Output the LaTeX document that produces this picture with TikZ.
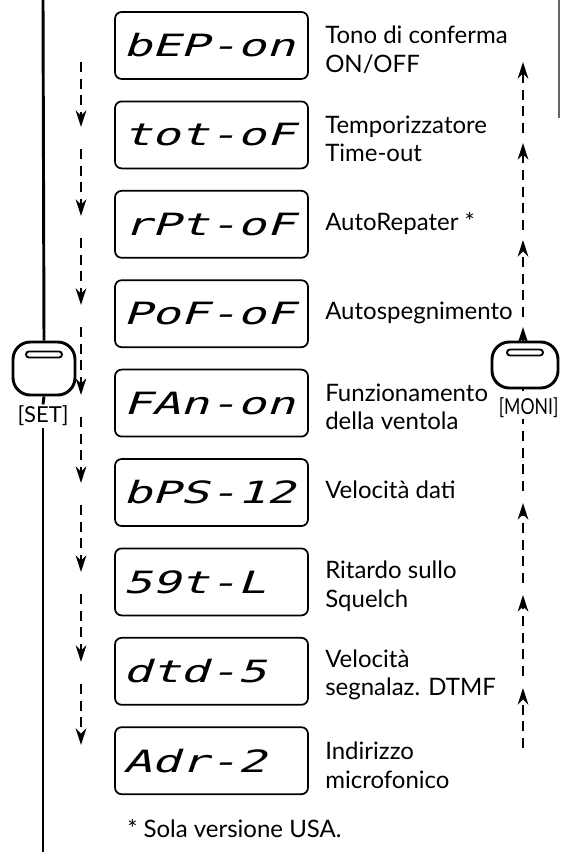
\documentclass[tikz,border=0pt]{standalone}
\usepackage{fontspec}
\setmainfont{Lato}
\newfontfamily\lcdfont[FakeSlant=0.22]{DejaVu Sans Mono}
\usetikzlibrary{arrows.meta}
\newcommand{\lcdtxt}[1]{\scalebox{1.55}[1]{\lcdfont\fontsize{23}{23}\selectfont #1}}
\begin{document}
\begin{tikzpicture}[x=0.75pt,y=-0.75pt,
  lcdbox/.style={draw, line width=1.3pt, rounded corners=5pt, minimum height=50.25pt,
    text width=132.75pt, inner xsep=6pt, inner ysep=0pt, align=left},
  lbl/.style={anchor=west, align=left, inner sep=0pt, font=\fontsize{18}{21.5}\selectfont},
  btnlbl/.style={inner sep=1pt, fill=white, font=\fontsize{16.5}{18}\selectfont},
  btn/.style={draw, line width=2.2pt, fill=white, rounded corners=13pt, inner sep=0pt},
  slot/.style={draw, line width=1.4pt, rounded corners=2.2pt, minimum width=27pt,
    minimum height=4.5pt, inner sep=0pt},
  dsh/.style={line width=1.4pt, dash pattern=on 7.5pt off 5pt},
  arr/.style={dsh, -{Stealth[length=12.5pt,width=8pt,inset=4pt]}},
  solid line/.style={line width=2.2pt}
]
\useasboundingbox (0,0) rectangle (561,852);

% right dashed line segment hidden behind the MONI button
\coordinate (rm0) at (523,491);
\coordinate (ra4) at (523,327);
\draw[arr] (rm0) -- (ra4);

% LCD boxes
\node[lcdbox] (b1) at (211.5,45.5)  {\lcdtxt{bEP-on}};
\node[lcdbox] (b2) at (211.5,134.9) {\lcdtxt{tot-oF}};
\node[lcdbox] (b3) at (211.5,224.3) {\lcdtxt{rPt-oF}};
\node[lcdbox] (b4) at (211.5,313.7) {\lcdtxt{PoF-oF}};
\node[lcdbox] (b5) at (211.5,403.1) {\lcdtxt{FAn-on}};
\node[lcdbox] (b6) at (211.5,492.5) {\lcdtxt{bPS-12}};
\node[lcdbox] (b7) at (211.5,581.9) {\lcdtxt{59t-L}};
\node[lcdbox] (b8) at (211.5,671.3) {\lcdtxt{dtd-5}};
\node[lcdbox] (b9) at (211.5,760.7) {\lcdtxt{Adr-2}};

% labels
\node[lbl] (d1) at (325,50)  {Tono di conferma\\ON/OFF};
\node[lbl] (d2) at (325,139) {Temporizzatore\\Time-out};
\node[lbl] (d3) at (325,224) {AutoRepater *};
\node[lbl] (d4) at (325,313) {Autospegnimento};
\node[lbl] (d5) at (325,407) {Funzionamento\\della ventola};
\node[lbl] (d6) at (325,490) {Velocità dati};
\node[lbl] (d7) at (325,586) {Ritardo sullo\\Squelch};
\node[lbl] (d8) at (325,675) {Velocità\\segnalaz. DTMF};
\node[lbl] (d9) at (325,765) {Indirizzo\\microfonico};
\node[lbl] (fn) at (127,829) {* Sola versione USA.};

% buttons
\node[btn, minimum width=46.5pt, minimum height=39.75pt] (setb) at (44,368.5) {};
\node[slot] (sets) at (44,354.5) {};
\node[btnlbl] (setl) at (43,416) {[SET]};
\node[btn, minimum width=49.5pt, minimum height=34.5pt] (monb) at (525,365) {};
\node[slot] (mons) at (525,352.5) {};
\node[btnlbl, anchor=east] (monl) at (560,408) {\scalebox{0.8}[1]{[MONI]}};

% left solid line
\coordinate (ltop) at (43,0);
\coordinate (lbot) at (43,852);
\draw[solid line] (ltop) -- (setb.north);
\draw[solid line] (setb.south) -- (setl.north);
\draw[solid line] (setl.south) -- (lbot);

% right gray edge line
\coordinate (gt) at (559,0);
\coordinate (gb) at (559,118);
\draw[line width=1.5pt, black!60] (gt) -- (gb);

% left dashed arrows (downwards)
\coordinate (ls) at (81,62);
\foreach \i/\y in {1/127,2/216,3/305,4/395,5/483,6/572,7/662,8/745}{
  \coordinate (la\i) at (81,\y);
  \coordinate (lb\i) at (81,\y+22);
}
\draw[arr] (ls) -- (la1);
\foreach \i/\j in {1/2,2/3,3/4,4/5,5/6,6/7,7/8}{
  \draw[arr] (lb\i) -- (la\j);
}

% right dashed arrows (upwards)
\coordinate (rs) at (523,748);
\foreach \i/\y in {1/62,2/143,3/240,5/503,6/595,7/688}{
  \coordinate (ra\i) at (523,\y);
}
\coordinate (rb4) at (523,317);
\coordinate (rb3) at (523,230);
\coordinate (rb2) at (523,133);
\coordinate (rb7) at (523,676);
\coordinate (rb6) at (523,583);
\draw[arr] (rs) -- (ra7);
\draw[arr] (rb7) -- (ra6);
\draw[arr] (rb6) -- (ra5);
\draw[arr] (rb4) -- (ra3);
\draw[arr] (rb3) -- (ra2);
\draw[arr] (rb2) -- (ra1);
\end{tikzpicture}
\end{document}
